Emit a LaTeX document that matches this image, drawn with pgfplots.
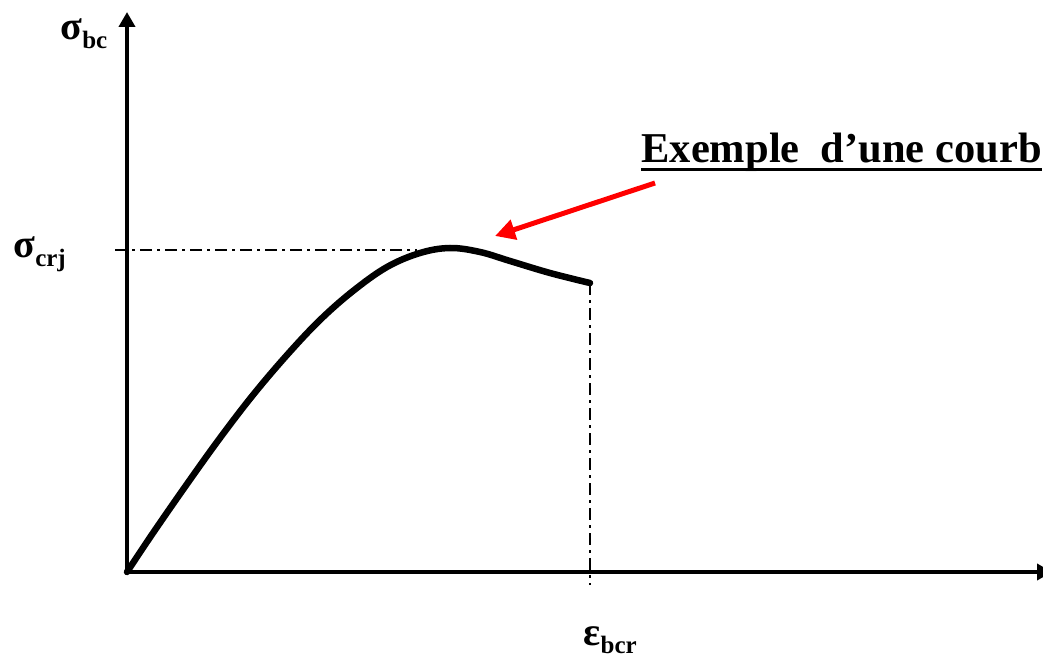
\documentclass[border=0pt]{standalone}
\usepackage{pgfplots}
\pgfplotsset{compat=1.18}
\usepackage{fontspec}
\setmainfont{Liberation Serif}
\usetikzlibrary{arrows.meta}
\newcommand{\sym}[2]{{\fontsize{16}{16}\selectfont\bfseries #1}\raisebox{-3.5pt}{\fontsize{10}{10}\selectfont\bfseries #2}}
\begin{document}
\begin{tikzpicture}
\begin{axis}[
  scale only axis, width=366.4pt, height=224pt,
  xmin=0, xmax=916, ymin=0, ymax=560,
  axis lines=none, clip=false,
]
% axes
\draw[line width=1.7pt, -{Triangle[length=6pt,width=6.4pt]}] (axis cs:0,0) -- (axis cs:0,560);
\draw[line width=1.7pt, -{Triangle[length=6pt,width=6.4pt]}] (axis cs:0,0) -- (axis cs:925,0);
% reference lines
\addplot[line width=0.6pt, dash pattern=on 4.8pt off 2pt on 1.2pt off 2pt] coordinates {(-12,322) (290,322)};
\addplot[line width=0.6pt, dash pattern=on 4.8pt off 2pt on 1.2pt off 2pt] coordinates {(463,289) (463,-13)};
% curve
\addplot[line width=2.6pt, smooth, tension=0.6, line cap=round] coordinates {
  (0,0) (26,39) (60,88) (93,134) (126,177) (160,217) (193,252)
  (226,281) (260,305) (293,319) (323,324) (353,320) (383,311) (423,299) (463,289)
};
% annotation
\draw[red, line width=2pt, -{Triangle[length=8pt,width=8pt]}] (axis cs:528,389) -- (axis cs:368,336);
\node[anchor=base west, inner sep=0pt, font=\fontsize{17}{20}\selectfont\bfseries] (t) at (axis cs:514,409) {Exemple\ \ d’une courb};
\draw[line width=1.5pt] ([yshift=-2.6pt]t.base west) -- ([yshift=-2.6pt]t.base east);
% labels
\node[anchor=base west, inner sep=0pt] at (axis cs:-67,532) {\sym{σ}{bc}};
\node[anchor=base west, inner sep=0pt] at (axis cs:-114,314) {\sym{σ}{crj}};
\node[anchor=base west, inner sep=0pt] at (axis cs:456,-73) {\sym{ε}{bcr}};
\coordinate (bl) at (axis cs:-127,-87);
\coordinate (tr) at (axis cs:916,572);
\end{axis}
\pgfresetboundingbox
\path (bl) rectangle (tr);
\end{tikzpicture}
\end{document}
